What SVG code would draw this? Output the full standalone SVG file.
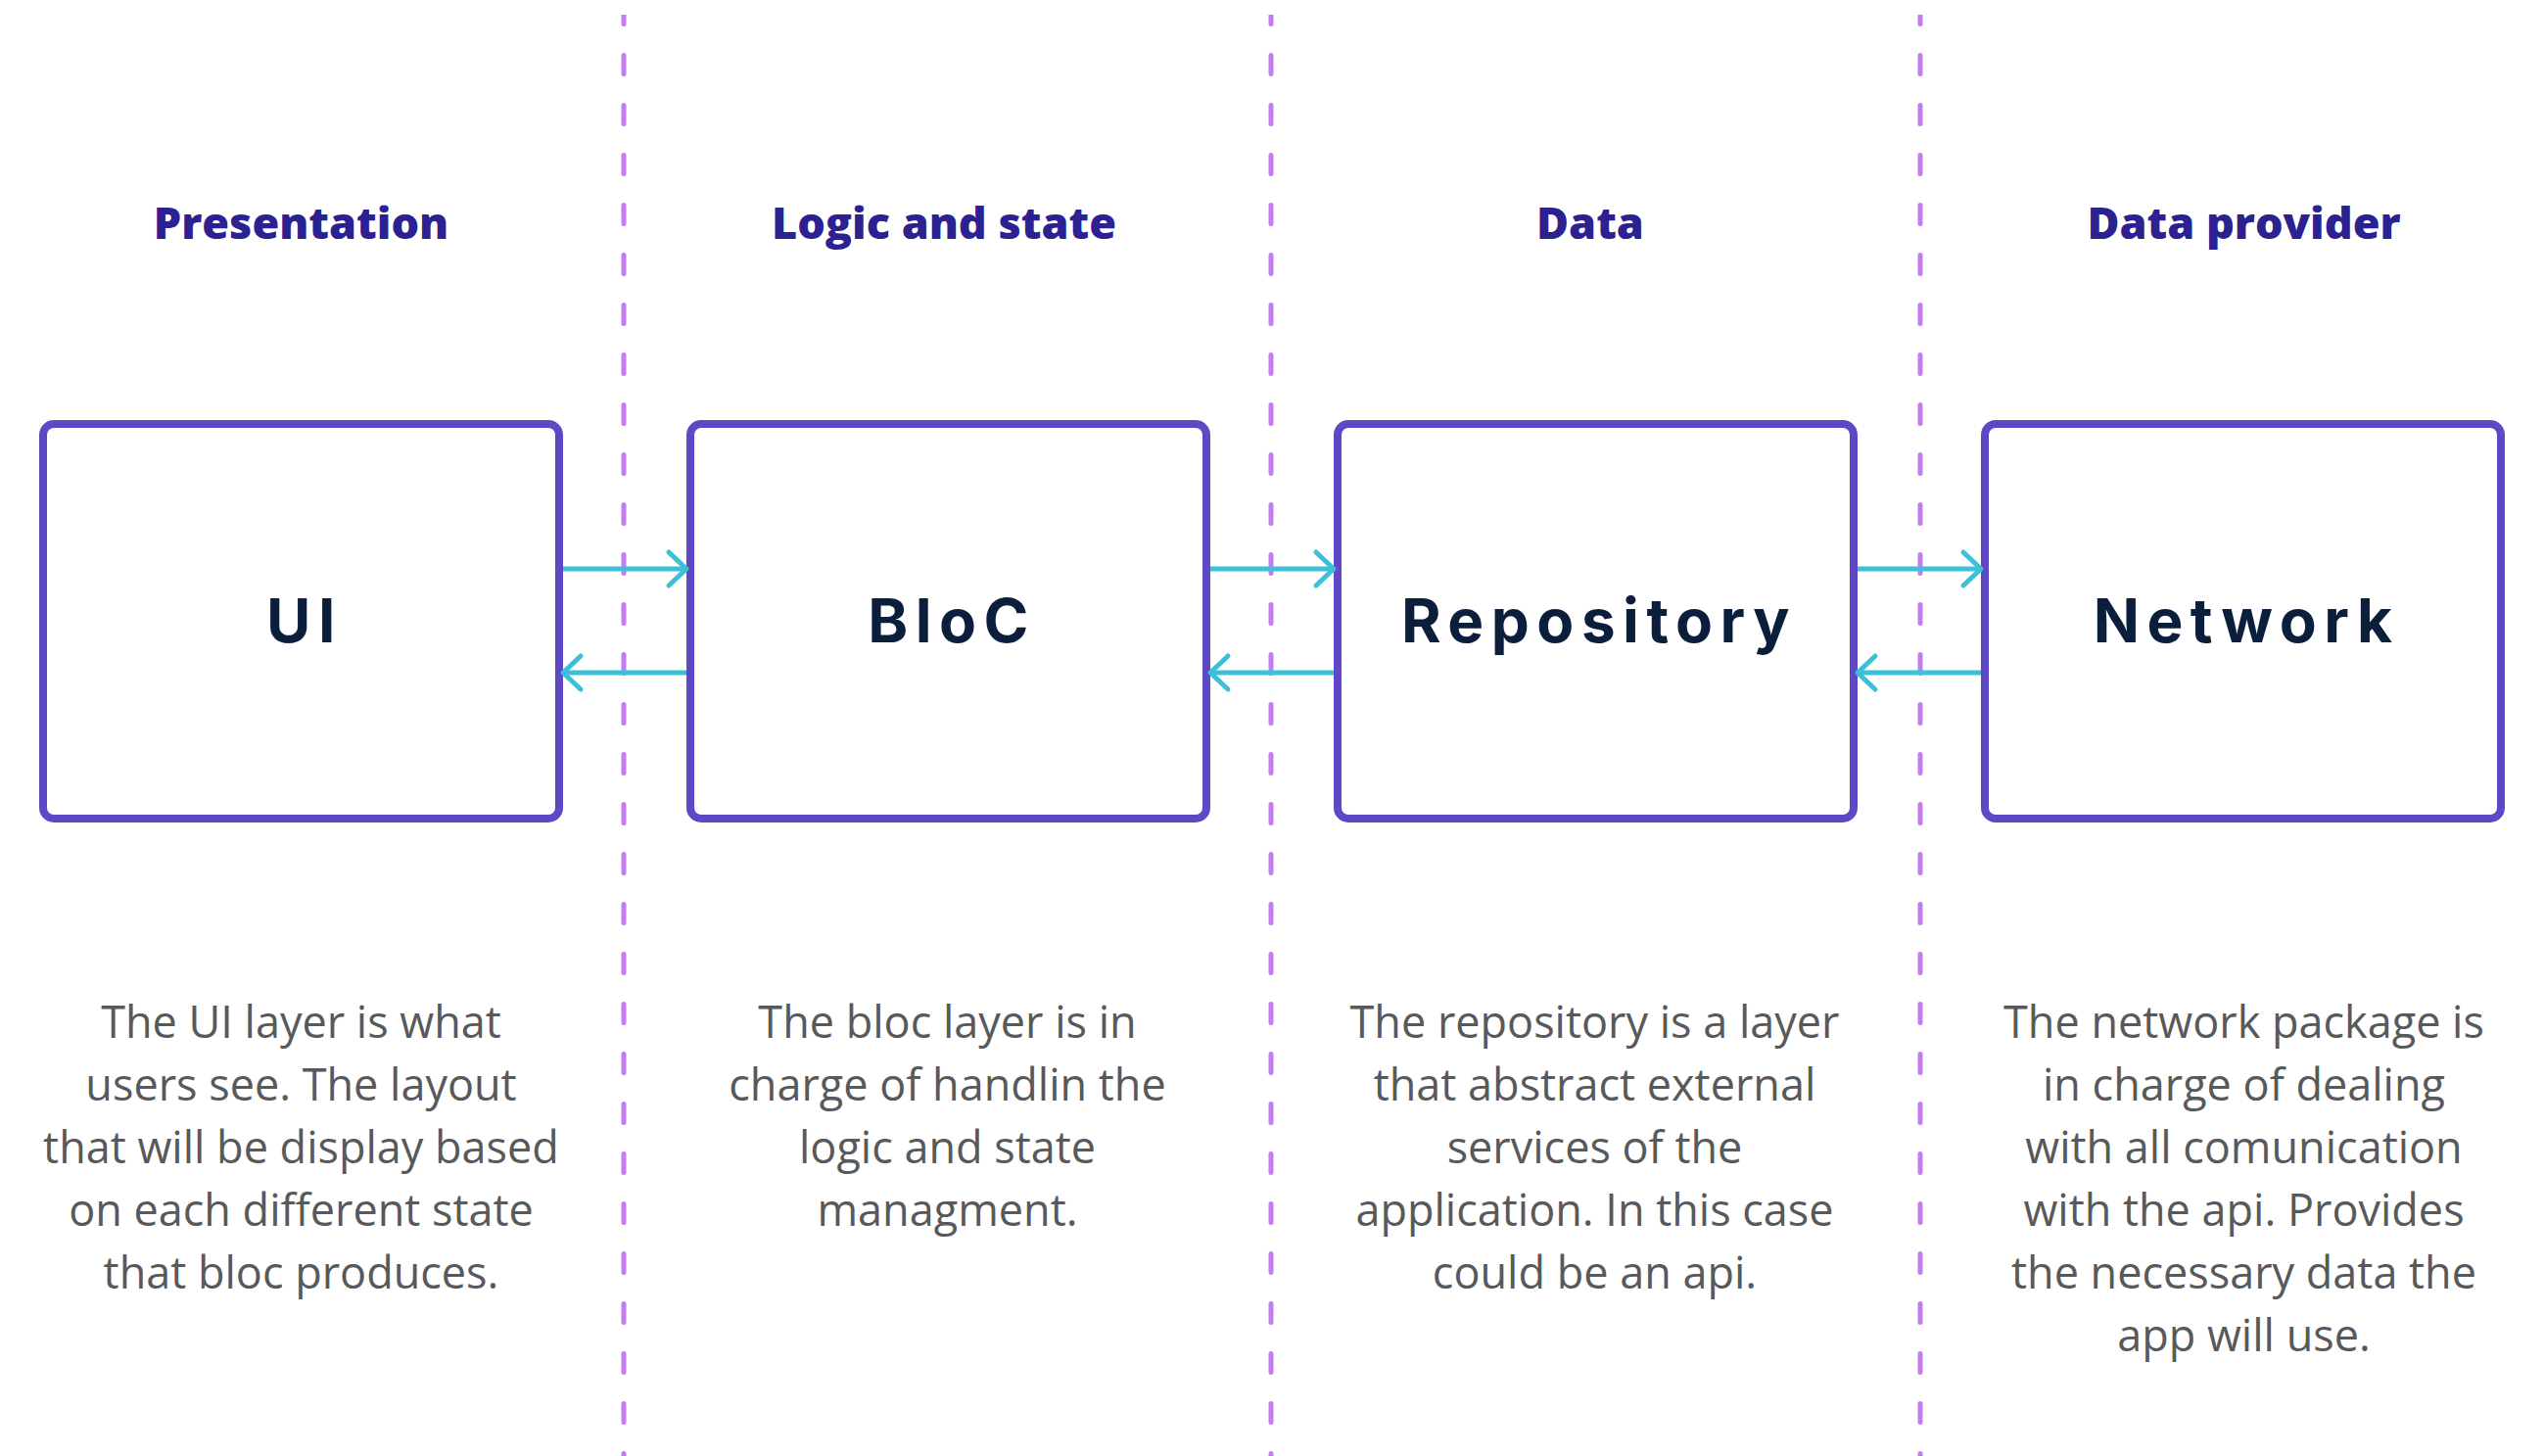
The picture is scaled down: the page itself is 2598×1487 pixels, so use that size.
<svg xmlns="http://www.w3.org/2000/svg" width="2598" height="1487" viewBox="0 0 2598 1487">
<style>
.bg{fill:#ffffff}
.box{fill:#ffffff;stroke:#5E48C6;stroke-width:8}
.sep{stroke:#C47CF0;stroke-width:5;stroke-linecap:round;stroke-dasharray:19 32;fill:none}
.arr{stroke:#3CC0D8;stroke-width:5;fill:none}
.head{font-family:"Open Sans","Noto Sans",sans-serif;font-weight:800;font-size:45px;fill:#2B2191;text-anchor:middle}
.lbl{font-family:Inter,"DejaVu Sans",sans-serif;font-weight:700;font-size:62px;letter-spacing:7.5px;fill:#0B1E3B;text-anchor:middle}
.desc{font-family:"Open Sans","Noto Sans",sans-serif;font-size:45px;fill:#58595B;text-anchor:middle}
</style>
<defs>
<marker id="ah" markerUnits="userSpaceOnUse" viewBox="-24 -22 28 44" markerWidth="28" markerHeight="44" refX="0" refY="0" orient="auto">
<path d="M-18,-17 L0,0 L-18,17" fill="none" stroke="#3CC0D8" stroke-width="5" stroke-linecap="round" stroke-linejoin="round"/>
</marker>
<clipPath id="clipTop"><rect x="0" y="15" width="2598" height="1472"/></clipPath>
</defs>
<rect class="bg" x="0" y="0" width="2598" height="1487"/>
<g id="separators" clip-path="url(#clipTop)">
<line class="sep" x1="637" y1="5.5" x2="637" y2="1500"/>
<line class="sep" x1="1298" y1="5.5" x2="1298" y2="1500"/>
<line class="sep" x1="1961" y1="5.5" x2="1961" y2="1500"/>
</g>
<g id="headings">
<text class="head" x="307.5" y="244">Presentation</text>
<text class="head" x="964" y="244">Logic and state</text>
<text class="head" x="1624" y="244">Data</text>
<text class="head" x="2291.5" y="244">Data provider</text>
</g>
<g id="node-ui">
<rect class="box" x="44" y="433" width="527" height="403" rx="11"/>
<text class="lbl" x="311" y="656">UI</text>
</g>
<g id="node-bloc">
<rect class="box" x="705" y="433" width="527" height="403" rx="11"/>
<text class="lbl" x="972" y="656">BloC</text>
</g>
<g id="node-repository">
<rect class="box" x="1366" y="433" width="527" height="403" rx="11"/>
<text class="lbl" x="1633" y="656">Repository</text>
</g>
<g id="node-network">
<rect class="box" x="2027" y="433" width="527" height="403" rx="11"/>
<text class="lbl" x="2294" y="656">Network</text>
</g>
<g id="connectors">
<line class="arr" x1="575" y1="581" x2="701" y2="581" marker-end="url(#ah)"/>
<line class="arr" x1="701" y1="687" x2="575" y2="687" marker-end="url(#ah)"/>
<line class="arr" x1="1236" y1="581" x2="1362" y2="581" marker-end="url(#ah)"/>
<line class="arr" x1="1362" y1="687" x2="1236" y2="687" marker-end="url(#ah)"/>
<line class="arr" x1="1897" y1="581" x2="2023" y2="581" marker-end="url(#ah)"/>
<line class="arr" x1="2023" y1="687" x2="1897" y2="687" marker-end="url(#ah)"/>
</g>
<g id="descriptions">
<text class="desc" x="307.5" y="1060">The UI layer is what</text>
<text class="desc" x="307.5" y="1124">users see. The layout</text>
<text class="desc" x="307.5" y="1188">that will be display based</text>
<text class="desc" x="307.5" y="1252">on each different state</text>
<text class="desc" x="307.5" y="1316">that bloc produces.</text>
<text class="desc" x="967.5" y="1060">The bloc layer is in</text>
<text class="desc" x="967.5" y="1124">charge of handlin the</text>
<text class="desc" x="967.5" y="1188">logic and state</text>
<text class="desc" x="967.5" y="1252">managment.</text>
<text class="desc" x="1628.5" y="1060">The repository is a layer</text>
<text class="desc" x="1628.5" y="1124">that abstract external</text>
<text class="desc" x="1628.5" y="1188">services of the</text>
<text class="desc" x="1628.5" y="1252">application. In this case</text>
<text class="desc" x="1628.5" y="1316">could be an api.</text>
<text class="desc" x="2291.5" y="1060">The network package is</text>
<text class="desc" x="2291.5" y="1124">in charge of dealing</text>
<text class="desc" x="2291.5" y="1188">with all comunication</text>
<text class="desc" x="2291.5" y="1252">with the api. Provides</text>
<text class="desc" x="2291.5" y="1316">the necessary data the</text>
<text class="desc" x="2291.5" y="1380">app will use.</text>
</g>
</svg>
